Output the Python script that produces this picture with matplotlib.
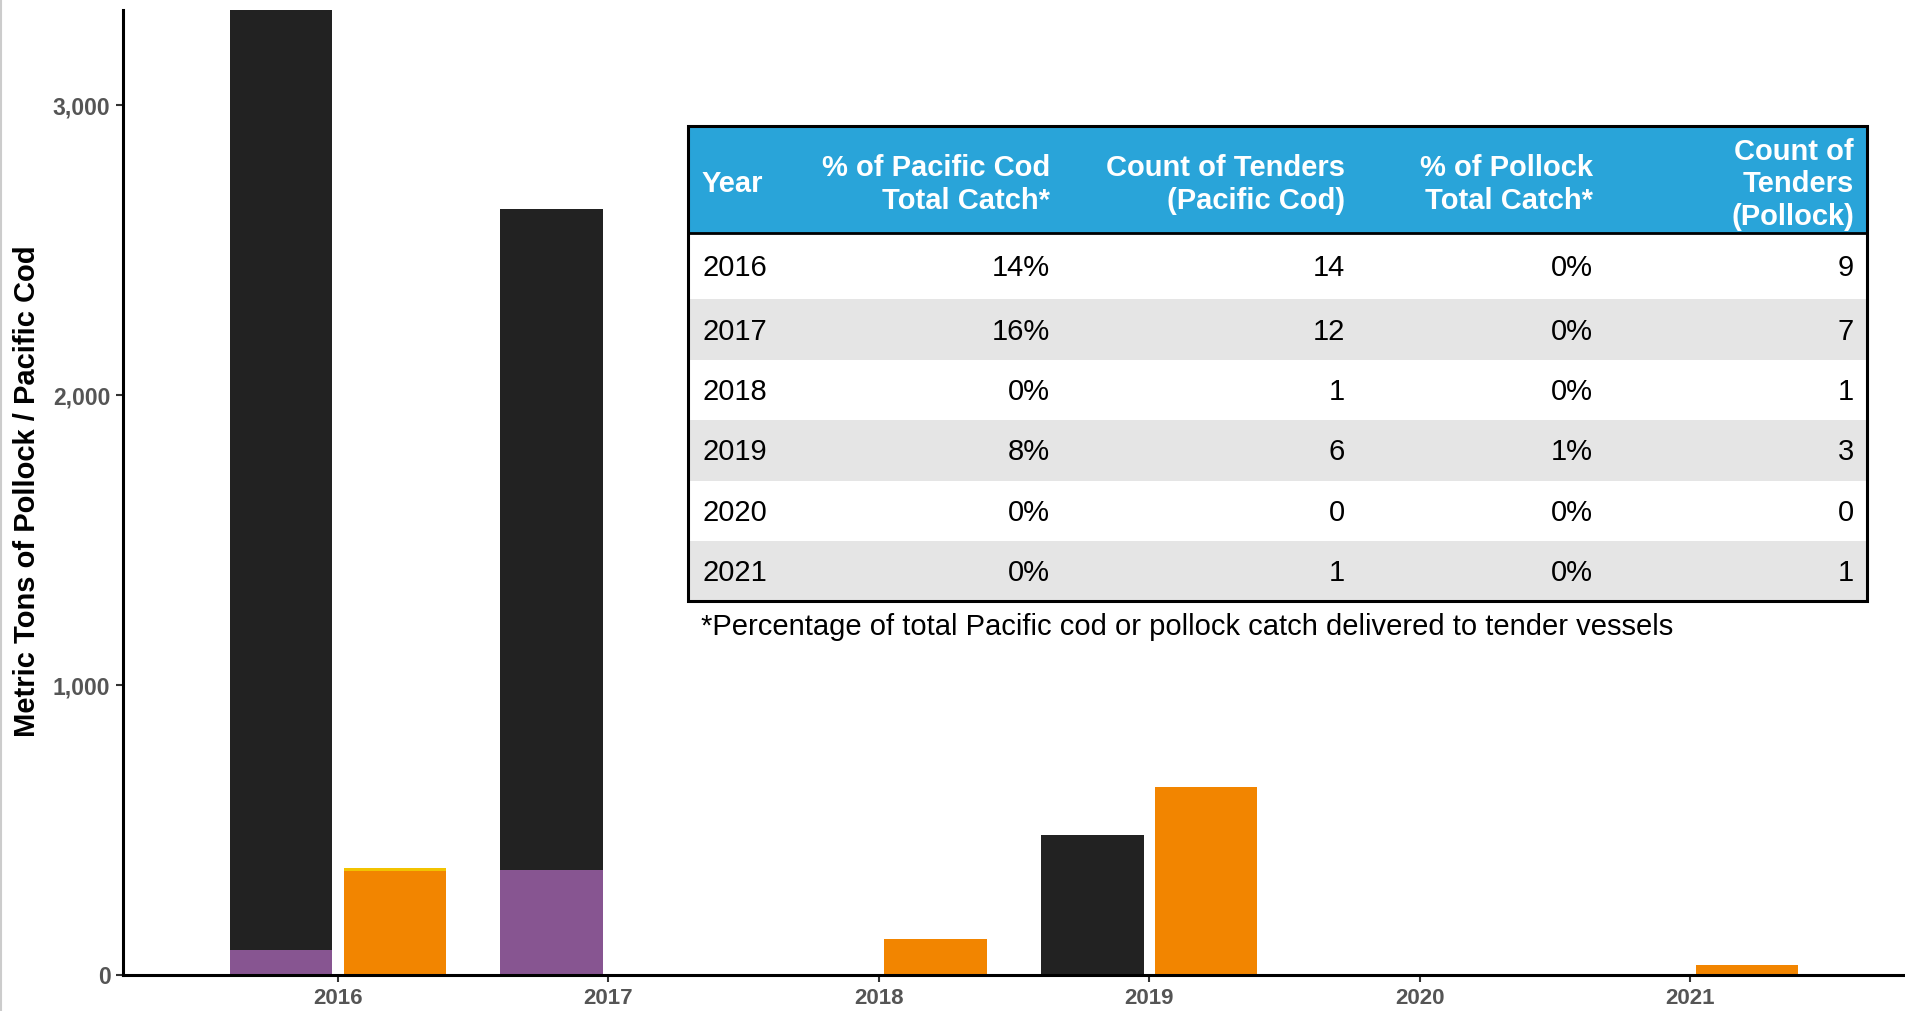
import matplotlib
matplotlib.use("Agg")
import matplotlib.pyplot as plt
from matplotlib.patches import Rectangle
from matplotlib.lines import Line2D

plt.rcParams['font.family'] = ['Liberation Sans', 'DejaVu Sans']

# ---------------- data ----------------
years = [2016, 2017, 2018, 2019, 2020, 2021]
pollock_tender = [86, 362, 0, 0, 0, 0]          # purple
pollock_other = [3244, 2278, 0, 484, 0, 0]      # black (stacked on purple)
cod_main = [359, 0, 124, 648, 0, 35]            # orange
cod_extra = [10, 0, 0, 0, 0, 0]                 # yellow (stacked on orange)

y_ticks = [0, 1000, 2000, 3000]
y_tick_labels = ["0", "1,000", "2,000", "3,000"]
y_label = "Metric Tons of Pollock / Pacific Cod"

table_header = ["Year", "% of Pacific Cod\nTotal Catch*", "Count of Tenders\n(Pacific Cod)",
                "% of Pollock\nTotal Catch*", "Count of\nTenders\n(Pollock)"]
tbl_year = ["2016", "2017", "2018", "2019", "2020", "2021"]
tbl_pct_cod = ["14%", "16%", "0%", "8%", "0%", "0%"]
tbl_cnt_cod = ["14", "12", "1", "6", "0", "1"]
tbl_pct_pol = ["0%", "0%", "0%", "1%", "0%", "0%"]
tbl_cnt_pol = ["9", "7", "1", "3", "0", "1"]
footnote = "*Percentage of total Pacific cod or pollock catch delivered to tender vessels"

# ---------------- styles ----------------
C_BLACK = "#222222"
C_PURPLE = "#875591"
C_ORANGE = "#F28500"
C_YELLOW = "#F2C300"
C_HEADER = "#29A4D9"
C_SHADE = "#E5E5E5"
C_TICK = "#555555"

W, H = 1905, 1011
fig = plt.figure(figsize=(W / 100, H / 100), dpi=100)

ax = fig.add_axes([123 / W, 1 - 975 / H, 1 - 123 / W, (975 - 10) / H])
bw = 0.378
off = 0.21
xs = [y for y in years]
ax.bar([x - off for x in xs], pollock_tender, width=bw, color=C_PURPLE, zorder=2)
ax.bar([x - off for x in xs], pollock_other, width=bw, bottom=pollock_tender, color=C_BLACK, zorder=2)
ax.bar([x + off for x in xs], cod_main, width=bw, color=C_ORANGE, zorder=2)
ax.bar([x + off for x in xs], cod_extra, width=bw, bottom=cod_main, color=C_YELLOW, zorder=2)

ax.set_xlim(2015.205, 2021.795)
ax.set_ylim(0, 3328)
for s in ["top", "right"]:
    ax.spines[s].set_visible(False)
for s in ["left", "bottom"]:
    ax.spines[s].set_linewidth(2.2)
    ax.spines[s].set_color("black")
ax.set_xticks(years)
ax.set_xticklabels([str(y) for y in years], fontsize=16, fontweight="bold", color=C_TICK)
ax.set_yticks(y_ticks)
ax.set_yticklabels(y_tick_labels, fontsize=16.5, fontweight="bold", color=C_TICK)
ax.tick_params(axis="both", length=5, width=1.5, color="#333333")
ax.tick_params(axis="x", pad=4)
ax.tick_params(axis="y", pad=4)

fig.text(27 / W, 1 - 491 / H, y_label, rotation=90, ha="center", va="center",
         fontsize=21, fontweight="bold", color="black")

# ---------------- table overlay (pixel coordinates) ----------------
ov = fig.add_axes([0, 0, 1, 1])
ov.set_xlim(0, W)
ov.set_ylim(H, 0)
ov.axis("off")
ov.patch.set_alpha(0)

tl, tr = 688, 1867
ttop, hbot = 126, 233
row_edges = [233, 299, 360, 420, 481, 541, 601]
col_right = [None, 1050, 1345, 1593, 1854]
year_left = 702
fs = 21

ov.add_patch(Rectangle((tl, ttop), tr - tl, row_edges[-1] - ttop, facecolor="white", edgecolor="none", zorder=1))
ov.add_patch(Rectangle((tl, ttop), tr - tl, hbot - ttop, facecolor=C_HEADER, edgecolor="none", zorder=2))
for i in range(len(tbl_year)):
    if i % 2 == 1:
        ov.add_patch(Rectangle((tl, row_edges[i]), tr - tl, row_edges[i + 1] - row_edges[i],
                               facecolor=C_SHADE, edgecolor="none", zorder=2))
ov.add_patch(Rectangle((tl, ttop), tr - tl, row_edges[-1] - ttop, facecolor="none",
                       edgecolor="black", linewidth=2.2, zorder=4))
ov.add_line(Line2D([tl, tr], [hbot, hbot], color="black", linewidth=2.0, zorder=4))

hy = (ttop + hbot) / 2 + 5
for j, h in enumerate(table_header):
    if j == 0:
        ov.text(year_left, hy - 1, h, ha="left", va="center", fontsize=fs, fontweight="bold",
                color="white", zorder=5)
    else:
        ov.text(col_right[j], hy, h, ha="right", va="center", multialignment="right",
                fontsize=fs, fontweight="bold", color="white", zorder=5, linespacing=1.22)

cols = [tbl_year, tbl_pct_cod, tbl_cnt_cod, tbl_pct_pol, tbl_cnt_pol]
for i in range(len(tbl_year)):
    cy = (row_edges[i] + row_edges[i + 1]) / 2 + 2
    for j, col in enumerate(cols):
        if j == 0:
            ov.text(year_left, cy, col[i], ha="left", va="center", fontsize=fs, color="black", zorder=5)
        else:
            ov.text(col_right[j], cy, col[i], ha="right", va="center", fontsize=fs, color="black", zorder=5)

ov.text(701, 627, footnote, ha="left", va="center", fontsize=21, color="black", zorder=5)

# thin grey frame line at the left edge
ov.add_line(Line2D([1, 1], [0, H], color="#cccccc", linewidth=1.5, zorder=5))

fig.savefig("out.png", dpi=100)
